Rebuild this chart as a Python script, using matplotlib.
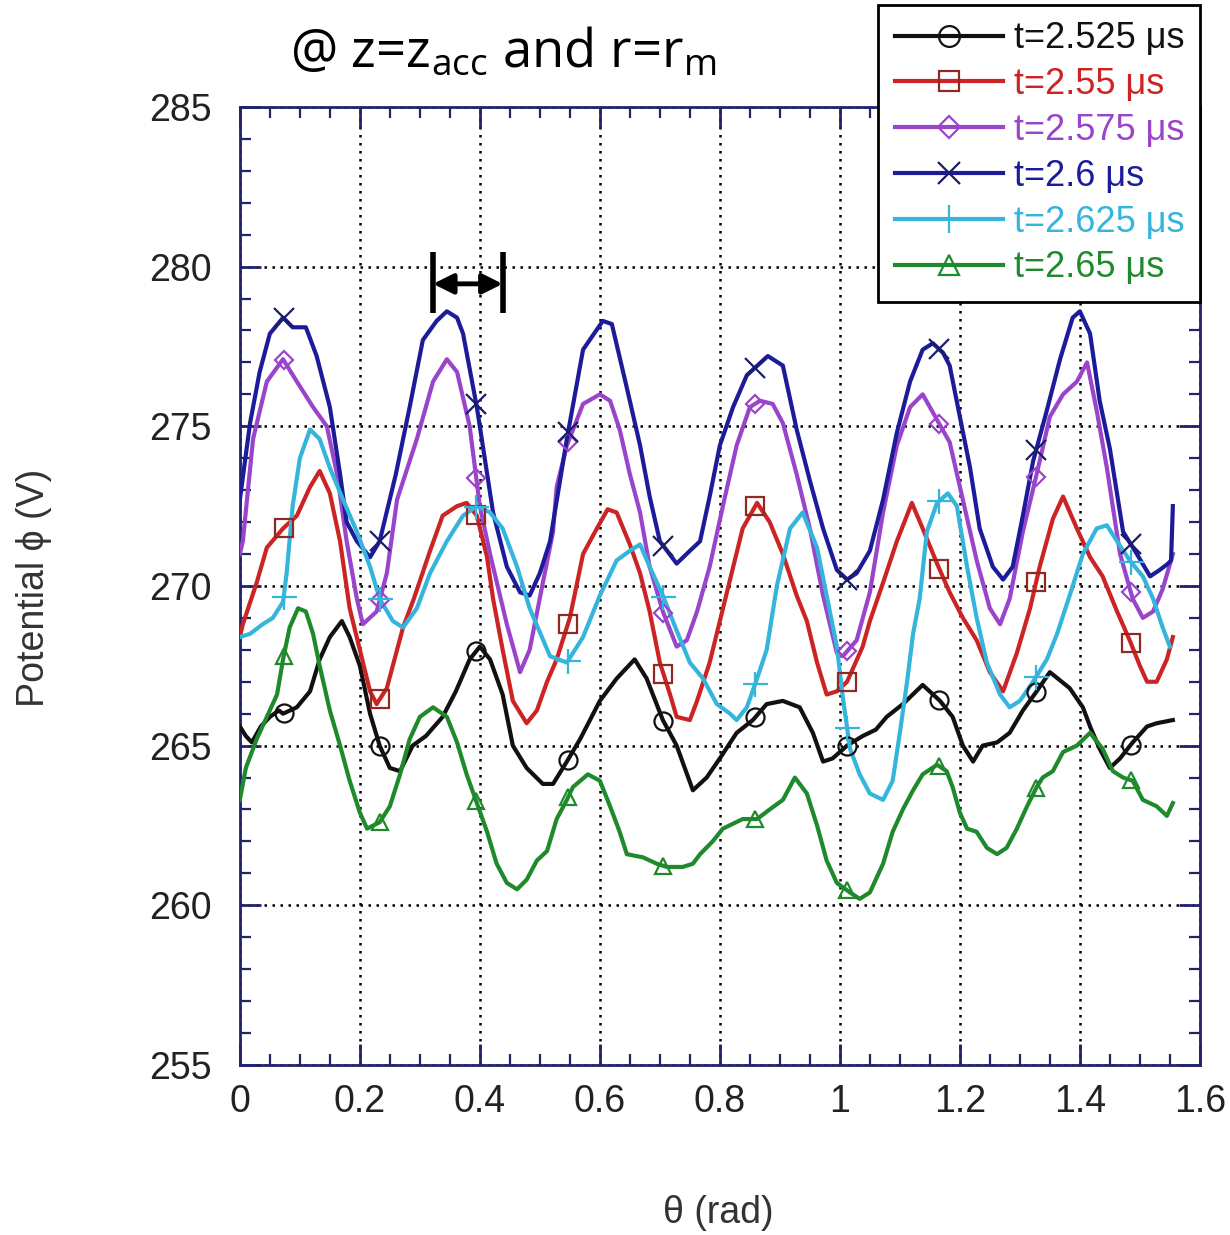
import numpy as np
import matplotlib
matplotlib.use("Agg")
import matplotlib.pyplot as plt
from matplotlib.lines import Line2D
from matplotlib.ticker import MultipleLocator

plt.rcParams['font.family'] = ['Liberation Sans', 'DejaVu Sans']
plt.rcParams['mathtext.default'] = 'regular'

# potential along theta for each time step
theta_2525 = [0.0, 0.01, 0.02, 0.035, 0.05, 0.065, 0.072, 0.095, 0.117, 0.133, 0.15, 0.17, 0.183, 0.2,
              0.217, 0.233, 0.25, 0.267, 0.288, 0.31, 0.338, 0.36, 0.383, 0.4, 0.417, 0.438, 0.455,
              0.478, 0.505, 0.522, 0.545, 0.567, 0.578, 0.6, 0.628, 0.658, 0.678, 0.705, 0.728, 0.755,
              0.778, 0.8, 0.828, 0.855, 0.878, 0.905, 0.933, 0.955, 0.972, 0.988, 1.012, 1.038, 1.06,
              1.078, 1.105, 1.138, 1.167, 1.188, 1.205, 1.222, 1.238, 1.262, 1.283, 1.305, 1.328, 1.35,
              1.383, 1.405, 1.417, 1.433, 1.45, 1.467, 1.488, 1.512, 1.528, 1.555]
phi_2525 = [265.6, 265.3, 265.1, 265.6, 265.9, 266.1, 266.0, 266.2, 266.7, 267.7, 268.4, 268.9, 268.4, 267.5,
            266.0, 265.0, 264.3, 264.2, 265.0, 265.3, 265.9, 266.7, 267.7, 268.1, 267.7, 266.6, 265.0,
            264.3, 263.8, 263.8, 264.5, 265.2, 265.6, 266.4, 267.1, 267.7, 267.1, 265.8, 265.0, 263.6,
            264.0, 264.6, 265.4, 265.8, 266.3, 266.4, 266.2, 265.4, 264.5, 264.6, 265.0, 265.3, 265.5,
            265.9, 266.3, 266.9, 266.4, 265.9, 265.0, 264.5, 265.0, 265.1, 265.4, 266.1, 266.7, 267.3,
            266.8, 266.2, 265.6, 264.9, 264.3, 264.6, 265.1, 265.6, 265.7, 265.8]

theta_255 = [0.0, 0.005, 0.028, 0.045, 0.072, 0.095, 0.117, 0.133, 0.15, 0.167, 0.183, 0.2, 0.217, 0.228,
             0.245, 0.262, 0.272, 0.29, 0.317, 0.338, 0.362, 0.378, 0.395, 0.412, 0.422, 0.438, 0.455,
             0.478, 0.495, 0.512, 0.528, 0.55, 0.572, 0.595, 0.613, 0.628, 0.65, 0.667, 0.683, 0.7,
             0.717, 0.728, 0.75, 0.762, 0.783, 0.8, 0.817, 0.838, 0.862, 0.883, 0.905, 0.928, 0.945,
             0.962, 0.978, 0.995, 1.012, 1.038, 1.05, 1.072, 1.095, 1.12, 1.138, 1.162, 1.183, 1.205,
             1.228, 1.25, 1.272, 1.295, 1.317, 1.333, 1.355, 1.372, 1.395, 1.417, 1.438, 1.462, 1.483,
             1.5, 1.512, 1.528, 1.545, 1.555]
phi_255 = [268.4, 268.8, 270.1, 271.2, 271.8, 272.2, 273.1, 273.6, 272.9, 271.4, 269.3, 268.0, 266.7, 266.3,
           266.8, 268.0, 268.7, 269.6, 271.1, 272.2, 272.5, 272.6, 272.2, 270.9, 269.6, 268.0, 266.4,
           265.7, 266.1, 267.0, 267.7, 269.0, 271.0, 271.8, 272.4, 272.3, 271.3, 270.4, 269.2, 267.6,
           266.6, 265.9, 265.8, 266.4, 267.6, 268.9, 270.2, 271.8, 272.6, 272.0, 271.0, 269.7, 268.9,
           267.6, 266.6, 266.7, 267.0, 268.1, 268.9, 270.1, 271.4, 272.6, 271.8, 270.7, 269.8, 269.0,
           268.3, 267.3, 266.7, 267.9, 269.3, 270.6, 272.1, 272.8, 271.8, 270.9, 270.3, 269.2, 268.3,
           267.5, 267.0, 267.0, 267.7, 268.4]

theta_2575 = [0.0, 0.005, 0.022, 0.045, 0.072, 0.095, 0.122, 0.145, 0.162, 0.178, 0.195, 0.205, 0.228,
              0.245, 0.262, 0.295, 0.322, 0.345, 0.362, 0.383, 0.4, 0.417, 0.445, 0.467, 0.483, 0.505,
              0.522, 0.528, 0.545, 0.572, 0.6, 0.617, 0.633, 0.65, 0.667, 0.683, 0.705, 0.728, 0.745,
              0.762, 0.783, 0.805, 0.828, 0.85, 0.867, 0.888, 0.905, 0.928, 0.95, 0.972, 0.995, 1.005,
              1.028, 1.05, 1.072, 1.095, 1.117, 1.138, 1.162, 1.183, 1.205, 1.228, 1.25, 1.267, 1.283,
              1.305, 1.328, 1.35, 1.372, 1.395, 1.412, 1.428, 1.445, 1.467, 1.488, 1.505, 1.522, 1.538,
              1.555]
phi_2575 = [271.0, 271.4, 274.6, 276.4, 277.1, 276.4, 275.6, 275.0, 273.5, 271.4, 269.6, 268.8, 269.2,
            270.4, 272.7, 274.6, 276.4, 277.1, 276.7, 275.0, 272.5, 271.0, 268.8, 267.3, 268.0, 270.1,
            271.7, 273.1, 274.4, 275.7, 276.0, 275.8, 274.9, 273.5, 272.3, 270.6, 269.2, 268.1, 268.3,
            269.2, 270.6, 272.5, 274.4, 275.6, 275.8, 275.7, 275.1, 273.5, 271.8, 269.7, 267.9, 267.8,
            268.3, 269.8, 272.3, 274.4, 275.6, 276.0, 275.2, 274.5, 272.7, 270.8, 269.3, 268.8, 269.6,
            271.7, 273.5, 275.3, 276.0, 276.4, 277.0, 275.5, 273.7, 271.0, 269.6, 269.0, 269.2, 269.9,
            271.0]

theta_26 = [0.0, 0.017, 0.033, 0.05, 0.072, 0.088, 0.11, 0.128, 0.15, 0.167, 0.178, 0.195, 0.217, 0.233,
            0.26, 0.283, 0.305, 0.328, 0.345, 0.362, 0.372, 0.395, 0.422, 0.445, 0.467, 0.483, 0.5, 0.517,
            0.545, 0.572, 0.605, 0.62, 0.645, 0.667, 0.683, 0.7, 0.728, 0.75, 0.767, 0.783, 0.8, 0.822,
            0.845, 0.88, 0.905, 0.928, 0.95, 0.972, 0.995, 1.012, 1.028, 1.05, 1.072, 1.095, 1.117, 1.138,
            1.155, 1.172, 1.183, 1.2, 1.217, 1.233, 1.255, 1.272, 1.288, 1.305, 1.322, 1.345, 1.367,
            1.388, 1.4, 1.417, 1.433, 1.45, 1.472, 1.495, 1.517, 1.533, 1.547, 1.552, 1.555]
phi_26 = [272.7, 275.1, 276.7, 277.9, 278.4, 278.1, 278.1, 277.2, 275.6, 273.5, 272.0, 271.4, 270.9, 271.4,
          273.5, 275.6, 277.7, 278.3, 278.6, 278.4, 277.9, 275.6, 272.3, 270.6, 269.8, 269.7, 270.4, 271.4,
          274.6, 277.4, 278.3, 278.2, 276.2, 274.4, 272.8, 271.4, 270.7, 271.1, 271.4, 272.8, 274.4, 275.6,
          276.6, 277.2, 276.9, 274.9, 273.3, 271.8, 270.5, 270.2, 270.4, 271.1, 272.7, 274.8, 276.4, 277.4,
          277.6, 277.3, 276.9, 275.3, 273.7, 271.8, 270.6, 270.2, 270.6, 272.2, 273.9, 275.5, 277.1,
          278.4, 278.6, 277.9, 275.8, 274.3, 271.7, 271.0, 270.3, 270.5, 270.7, 270.8, 272.5]

theta_2625 = [0.0, 0.017, 0.038, 0.055, 0.072, 0.078, 0.088, 0.1, 0.117, 0.133, 0.15, 0.172, 0.195, 0.217,
              0.233, 0.255, 0.272, 0.295, 0.317, 0.345, 0.372, 0.395, 0.417, 0.438, 0.462, 0.483, 0.517,
              0.545, 0.572, 0.6, 0.628, 0.65, 0.667, 0.683, 0.705, 0.728, 0.75, 0.772, 0.795, 0.817,
              0.828, 0.845, 0.862, 0.878, 0.895, 0.917, 0.938, 0.962, 0.978, 0.995, 1.005, 1.017, 1.033,
              1.05, 1.072, 1.088, 1.1, 1.112, 1.122, 1.133, 1.145, 1.162, 1.18, 1.195, 1.212, 1.228,
              1.245, 1.267, 1.283, 1.3, 1.322, 1.345, 1.362, 1.383, 1.405, 1.428, 1.445, 1.462, 1.483,
              1.505, 1.522, 1.538, 1.55]
phi_2625 = [268.4, 268.5, 268.8, 269.0, 269.5, 270.4, 272.5, 274.0, 274.9, 274.6, 273.7, 272.7, 271.7, 270.6,
            269.6, 268.9, 268.7, 269.3, 270.4, 271.4, 272.2, 272.5, 272.3, 271.8, 270.6, 269.3, 267.8,
            267.6, 268.4, 269.7, 270.8, 271.1, 271.3, 270.6, 269.7, 268.6, 267.6, 267.1, 266.3, 266.0,
            265.8, 266.2, 267.1, 268.0, 270.0, 271.8, 272.3, 271.2, 269.7, 268.1, 266.5, 264.9, 264.1,
            263.5, 263.3, 263.9, 265.4, 267.0, 268.5, 269.6, 271.7, 272.6, 272.9, 272.5, 270.6, 269.0,
            267.6, 266.6, 266.2, 266.4, 267.0, 267.7, 268.5, 269.7, 271.0, 271.8, 271.9, 271.4, 270.8,
            270.3, 269.6, 268.7, 268.1]

theta_265 = [0.0, 0.01, 0.028, 0.045, 0.062, 0.072, 0.083, 0.097, 0.11, 0.122, 0.133, 0.15, 0.167, 0.183,
             0.2, 0.212, 0.233, 0.25, 0.267, 0.283, 0.3, 0.322, 0.345, 0.362, 0.378, 0.395, 0.412, 0.428,
             0.445, 0.462, 0.478, 0.495, 0.512, 0.528, 0.545, 0.555, 0.58, 0.6, 0.617, 0.633, 0.645, 0.672,
             0.695, 0.712, 0.738, 0.755, 0.767, 0.788, 0.805, 0.838, 0.862, 0.883, 0.905, 0.925, 0.945,
             0.962, 0.978, 0.995, 1.017, 1.033, 1.05, 1.072, 1.088, 1.105, 1.122, 1.138, 1.162, 1.178,
             1.188, 1.2, 1.212, 1.228, 1.245, 1.262, 1.278, 1.295, 1.312, 1.328, 1.338, 1.355, 1.372,
             1.395, 1.417, 1.438, 1.455, 1.472, 1.488, 1.505, 1.528, 1.545, 1.555]
phi_265 = [263.3, 264.3, 265.2, 265.9, 266.6, 267.7, 268.7, 269.3, 269.2, 268.5, 267.5, 266.1, 265.0, 263.9,
           262.9, 262.4, 262.6, 263.1, 264.1, 265.2, 265.9, 266.2, 265.9, 265.1, 264.1, 263.2, 262.3, 261.3,
           260.7, 260.5, 260.8, 261.4, 261.7, 262.7, 263.3, 263.7, 264.1, 263.9, 263.1, 262.3, 261.6, 261.5,
           261.3, 261.2, 261.2, 261.3, 261.6, 262.0, 262.4, 262.7, 262.7, 263.0, 263.3, 264.0, 263.5,
           262.5, 261.4, 260.7, 260.4, 260.2, 260.4, 261.3, 262.3, 263.0, 263.6, 264.1, 264.4, 264.2,
           263.7, 262.9, 262.4, 262.3, 261.8, 261.6, 261.8, 262.4, 263.1, 263.7, 264.0, 264.2, 264.8,
           265.0, 265.4, 264.9, 264.2, 264.0, 263.9, 263.3, 263.1, 262.8, 263.2]

marker_theta = [0.073, 0.233, 0.394, 0.547, 0.706, 0.859, 1.012, 1.166, 1.327, 1.485]

labels = ['t=2.525 \u03bcs', 't=2.55 \u03bcs', 't=2.575 \u03bcs',
          't=2.6 \u03bcs', 't=2.625 \u03bcs', 't=2.65 \u03bcs']
x_ticks = [0, 0.2, 0.4, 0.6, 0.8, 1.0, 1.2, 1.4, 1.6]
x_tick_labels = ['0', '0.2', '0.4', '0.6', '0.8', '1', '1.2', '1.4', '1.6']
y_ticks = [255, 260, 265, 270, 275, 280, 285]

# spacing marker
span_left, span_right = 0.322, 0.438
span_level, span_low, span_high = 279.46, 278.55, 280.45

series = [
    (theta_2525, phi_2525, '#111111', 'o', 13, '#111111'),
    (theta_255, phi_255, '#cc2424', 's', 13, '#8e2a22'),
    (theta_2575, phi_2575, '#9a44cc', 'D', 9, '#9a44cc'),
    (theta_26, phi_26, '#1c1c9a', 'x', 14, '#1c1c6a'),
    (theta_2625, phi_2625, '#35b4dc', '+', 18, '#35b4dc'),
    (theta_265, phi_265, '#1f8a2c', '^', 12, '#1f8a2c'),
]

navy = '#23236b'

fig = plt.figure(figsize=(12.3, 12.35), dpi=100)
ax = fig.add_axes([0.195, 0.1377, 0.7805, 0.7757])

handles = []
for th, ph, col, mk, ms, mec in series:
    ax.plot(th, ph, color=col, lw=3.0, zorder=3)
    ax.plot(marker_theta, np.interp(marker_theta, th, ph), ls='none', marker=mk, ms=ms,
            mfc='none', mec=mec, mew=1.6, zorder=4)
    handles.append(Line2D([], [], color=col, lw=3.0, marker=mk, ms=ms + 2,
                          mfc='none', mec=mec, mew=1.6))

ax.set_xlim(0, 1.6)
ax.set_ylim(255, 285)
ax.set_xticks(x_ticks)
ax.set_xticklabels(x_tick_labels)
ax.set_yticks(y_ticks)
ax.xaxis.set_minor_locator(MultipleLocator(0.05))
ax.yaxis.set_minor_locator(MultipleLocator(1))
ax.tick_params(which='both', direction='in', top=True, right=True, color=navy,
               labelsize=27, labelcolor='#222222')
ax.tick_params(which='major', length=15, width=2)
ax.tick_params(which='minor', length=8, width=1.6)
ax.tick_params(axis='x', pad=14)
ax.tick_params(axis='y', pad=20)
for sp in ax.spines.values():
    sp.set_color(navy)
    sp.set_linewidth(2)

ax.grid(True, which='major', color='black', linestyle=(0, (1, 2.2)), linewidth=1.8)
ax.set_axisbelow(True)

ax.set_xlabel('\u03b8 (rad)', fontsize=27, color='#333333')
ax.set_ylabel('Potential \u03d5 (V)', fontsize=27, color='#333333')
ax.xaxis.set_label_coords(0.498, -0.136)
ax.yaxis.set_label_coords(-0.196, 0.498)

# double arrow showing the wavelength
ax.annotate('', xy=(span_right, span_level), xytext=(span_left, span_level),
            arrowprops=dict(arrowstyle='<|-|>', color='black', lw=3.5,
                            mutation_scale=30, shrinkA=0, shrinkB=0), zorder=6)
ax.vlines([span_left, span_right], span_low, span_high, color='black', lw=4, zorder=6)

leg = fig.legend(handles, labels, loc='upper right', bbox_to_anchor=(0.976, 0.996),
                 fontsize=26, handlelength=3.0, handletextpad=0.3, labelspacing=0.3,
                 borderpad=0.45, frameon=True, fancybox=False, framealpha=1,
                 edgecolor='black', borderaxespad=0)
leg.get_frame().set_linewidth(2)
for txt, s in zip(leg.get_texts(), series):
    txt.set_color(s[2])

fig.text(0.236, 0.957, '@ z=z$_{acc}$ and r=r$_{m}$', fontsize=38, ha='left', va='center',
         family=['Open Sans', 'DejaVu Sans'])

fig.savefig('out.png', dpi=100)
